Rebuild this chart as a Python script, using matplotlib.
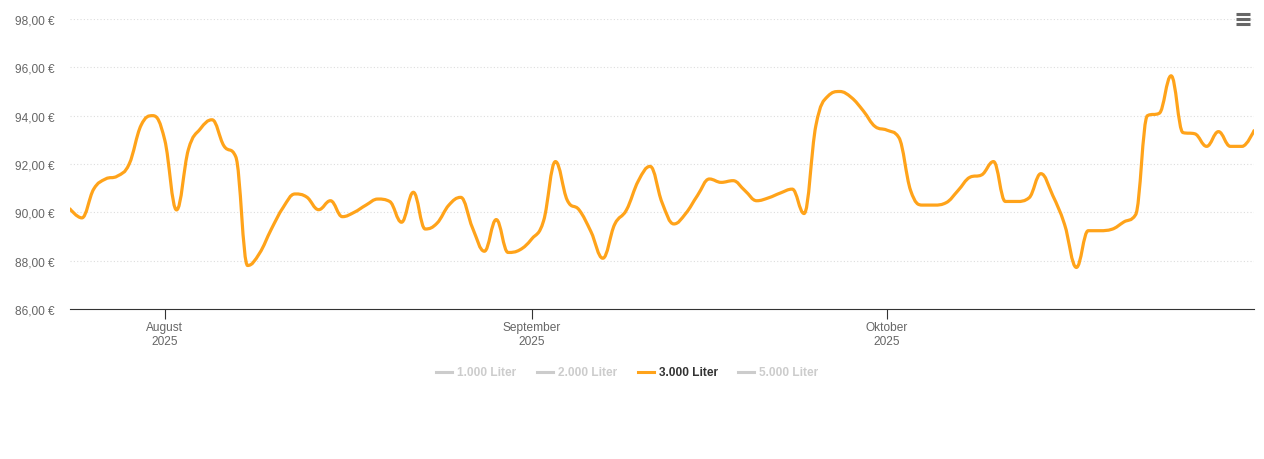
import numpy as np
import pandas as pd
import matplotlib
matplotlib.use("Agg")
import matplotlib.pyplot as plt
import matplotlib.dates as mdates
from matplotlib.path import Path
from matplotlib.patches import PathPatch
from matplotlib.lines import Line2D

plt.rcParams['font.family'] = ['Liberation Sans', 'DejaVu Sans']

# Tagespreise 3.000 Liter (24.07.2025 - 01.11.2025)
start = "2025-07-24"
prices = [
    90.14, 89.77, 90.96, 91.38, 91.50, 92.00, 93.60, 94.00,          # Juli
    93.00, 90.10, 92.60, 93.45, 93.83, 92.75, 92.30, 87.80, 88.30,   # August
    89.30, 90.20, 90.76, 90.63, 90.11, 90.48, 89.82, 90.00, 90.30,
    90.55, 90.45, 89.59, 90.83, 89.31, 89.55, 90.30, 90.62, 89.35,
    88.39, 89.70, 88.34, 88.45,
    88.90, 89.65, 92.10, 90.50, 90.10, 89.20, 88.10, 89.50, 90.10,  # September
    91.30, 91.90, 90.41, 89.52, 89.95, 90.70, 91.38, 91.24, 91.31,
    90.90, 90.48, 90.60, 90.80, 90.96, 89.95, 93.60, 94.80, 95.00,
    94.75, 94.20, 93.55,
    93.40, 93.10, 90.90, 90.30, 90.30, 90.40, 90.90, 91.45, 91.55,  # Oktober
    92.10, 90.45, 90.45, 90.60, 91.60, 90.70, 89.50, 87.72, 89.24,
    89.24, 89.30, 89.60, 89.90, 94.00, 94.10, 95.65, 93.30, 93.25,
    92.73, 93.34, 92.73, 92.73,
    93.38,                                                          # November
]
dates = pd.date_range(start, periods=len(prices), freq="D")

y_ticks = [86, 88, 90, 92, 94, 96, 98]
x_ticks = ["2025-08-01", "2025-09-01", "2025-10-01"]
x_labels = ["August\n2025", "September\n2025", "Oktober\n2025"]
legend_names = ["1.000 Liter", "2.000 Liter", "3.000 Liter", "5.000 Liter"]
legend_active = [False, False, True, False]

orange = "#ffa31a"


def spline_path(xs, ys, smoothing=1.5):
    # Bezier-Kurve wie beim Highcharts-Spline
    n = len(xs)
    lc = [None] * n
    rc = [None] * n
    for i in range(1, n - 1):
        px, py = xs[i], ys[i]
        lx, ly = xs[i - 1], ys[i - 1]
        nx, ny = xs[i + 1], ys[i + 1]
        d = smoothing + 1
        lcx = (smoothing * px + lx) / d
        lcy = (smoothing * py + ly) / d
        rcx = (smoothing * px + nx) / d
        rcy = (smoothing * py + ny) / d
        if rcx != lcx:
            corr = (rcy - lcy) * (rcx - px) / (rcx - lcx) + py - rcy
            lcy += corr
            rcy += corr
            if lcy > ly and lcy > py:
                lcy = max(ly, py)
                rcy = 2 * py - lcy
            elif lcy < ly and lcy < py:
                lcy = min(ly, py)
                rcy = 2 * py - lcy
            if rcy > ny and rcy > py:
                rcy = max(ny, py)
                lcy = 2 * py - rcy
            elif rcy < ny and rcy < py:
                rcy = min(ny, py)
                lcy = 2 * py - rcy
        lc[i] = (lcx, lcy)
        rc[i] = (rcx, rcy)
    verts = [(xs[0], ys[0])]
    codes = [Path.MOVETO]
    for i in range(1, n):
        c1 = rc[i - 1] if rc[i - 1] is not None else (xs[i - 1], ys[i - 1])
        c2 = lc[i] if lc[i] is not None else (xs[i], ys[i])
        verts += [c1, c2, (xs[i], ys[i])]
        codes += [Path.CURVE4] * 3
    return Path(verts, codes)


fig = plt.figure(figsize=(12.64, 4.6), dpi=100)
ax = fig.add_axes([70 / 1264, 150 / 460, 1184 / 1264, 290 / 460])

xnum = mdates.date2num(dates)
path = spline_path(list(xnum), list(prices))
ax.add_patch(PathPatch(path, facecolor="none", edgecolor=orange, lw=2.3,
                       capstyle="round", joinstyle="round", zorder=3))

ax.set_xlim(mdates.date2num(pd.Timestamp("2025-07-24")),
            mdates.date2num(pd.Timestamp("2025-11-01")))
ax.set_ylim(86, 98)

# Gitter
for v in y_ticks[1:]:
    ax.axhline(v, color="#dddddd", lw=0.8, ls=(0, (1, 2)), zorder=1)

ax.set_yticks(y_ticks)
ax.set_yticklabels([f"{v:.2f}".replace(".", ",") + " €" for v in y_ticks])
ax.set_xticks(mdates.date2num(pd.to_datetime(x_ticks)))
ax.set_xticklabels(x_labels)
ax.tick_params(axis="y", length=0, pad=11, labelsize=8.6, labelcolor="#666666")
ax.tick_params(axis="x", length=7.5, width=0.8, color="#333333", pad=1,
               labelsize=8.6, labelcolor="#666666")
for lab in ax.get_xticklabels():
    lab.set_linespacing(1.25)

for s in ["top", "right", "left"]:
    ax.spines[s].set_visible(False)
ax.spines["bottom"].set_color("#333333")
ax.spines["bottom"].set_linewidth(0.8)

# Legende
leg_x = [436, 537, 638, 738]
for xp, name, act in zip(leg_x, legend_names, legend_active):
    col = orange if act else "#cccccc"
    tcol = "#333333" if act else "#cccccc"
    fig.add_artist(Line2D([xp / 1264, (xp + 16) / 1264], [1 - 373 / 460] * 2,
                          color=col, lw=2.2, transform=fig.transFigure))
    fig.text((xp + 21) / 1264, 1 - 373 / 460, name, color=tcol, fontsize=8.6,
             fontweight="bold", va="center", ha="left")

# Menue-Symbol
for yy in [15, 20, 25]:
    fig.add_artist(Line2D([1236 / 1264, 1250 / 1264], [1 - yy / 460] * 2,
                          color="#666666", lw=2.2, solid_capstyle="butt",
                          transform=fig.transFigure))

fig.savefig("out.png", dpi=100, facecolor="white")
